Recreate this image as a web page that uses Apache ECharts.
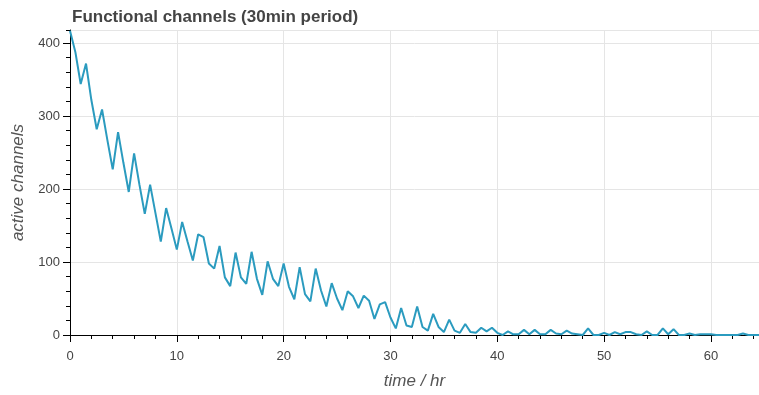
<!DOCTYPE html>
<html>
<head>
<meta charset="utf-8">
<script src="https://cdn.jsdelivr.net/npm/echarts@6/dist/echarts.min.js"></script>
<style>html,body{margin:0;padding:0;background:#fff}#c{width:759px;height:395px}</style>
</head>
<body>
<div id="c"></div>
<script>
var titleText = "Functional channels (30min period)";
var xLabel = "time / hr";
var yLabel = "active channels";
var timeHr = [];
for (var i = 0; i <= 129; i++) timeHr.push(i * 0.5);
var activeChannels = [
417,388,344,372,322,282,309,267,227,278,
236,196,249,206,166,206,167,128,174,146,
117,155,128,102,138,134,98,91,122,79,
67,113,79,70,114,77,55,101,77,67,
98,66,49,93,56,46,91,61,39,71,
50,34,60,53,37,54,47,22,42,45,
24,9,37,13,11,39,11,6,29,11,
4,21,6,3,15,4,3,10,5,10,
3,0,5,1,1,7,1,7,1,1,
7,2,1,6,2,1,0,9,0,0,
3,0,4,1,4,4,1,0,5,0,
0,9,1,8,0,0,2,0,1,1,
1,0,0,0,0,0,2,0,0,0
];
var xTicks = [0,10,20,30,40,50,60];
var yTicks = [0,100,200,300,400];

var pts = timeHr.map(function(t, i){ return [t, activeChannels[i]]; });
var font = "'Liberation Sans', Arial, sans-serif";
var chart = echarts.init(document.getElementById('c'), null, {renderer:'canvas'});
chart.setOption({
  animation: false,
  title: {text: titleText, left: 67, top: 4,
    textStyle: {fontFamily: font, fontSize: 17, fontWeight: 'bold', color: '#444'}},
  grid: {left: 70, right: 0, top: 30, bottom: 60, show: false},
  xAxis: [{
    type: 'value', min: 0, max: 64.5, interval: 10,
    name: xLabel, nameLocation: 'middle', nameGap: 38,
    nameTextStyle: {fontFamily: font, fontSize: 17, fontStyle: 'italic', color: '#555'},
    axisLine: {show: true, lineStyle: {color: '#000', width: 1}},
    axisTick: {show: true, length: 7, lineStyle: {color: '#000'}},
    axisLabel: {margin: 15, showMaxLabel: false, fontFamily: font, fontSize: 13, color: '#444'},
    splitLine: {show: true, lineStyle: {color: '#e5e5e5'}}
  },{
    type: 'value', min: 0, max: 64.5, interval: 2, position: 'bottom',
    axisLine: {show: false}, axisLabel: {show: false}, splitLine: {show: false},
    axisTick: {show: true, length: 4, lineStyle: {color: '#000'}}
  }],
  yAxis: [{
    type: 'value', min: 0, max: 418, interval: 100,
    name: yLabel, nameLocation: 'middle', nameGap: 43,
    nameTextStyle: {fontFamily: font, fontSize: 17, fontStyle: 'italic', color: '#555'},
    axisLine: {show: true, lineStyle: {color: '#000', width: 1}},
    axisTick: {show: true, length: 7, lineStyle: {color: '#000'}},
    axisLabel: {margin: 10, showMaxLabel: false, fontFamily: font, fontSize: 13, color: '#444'},
    splitLine: {show: true, lineStyle: {color: '#e5e5e5'}}
  },{
    type: 'value', min: 0, max: 418, interval: 20, position: 'left',
    axisLine: {show: false}, axisLabel: {show: false}, splitLine: {show: false},
    axisTick: {show: true, length: 4, lineStyle: {color: '#000'}}
  }],
  series: [{
    type: 'line', data: pts, showSymbol: false, symbol: 'none',
    lineStyle: {color: '#2b9bbf', width: 2}, xAxisIndex: 0, yAxisIndex: 0
  }]
});
</script>
</body>
</html>
